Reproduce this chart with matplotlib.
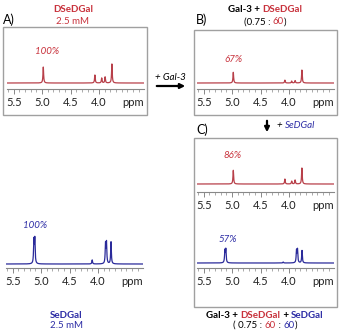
import numpy as np
import matplotlib
matplotlib.use('Agg')
import matplotlib.pyplot as plt
from matplotlib import patches

plt.rcParams['font.family'] = ['Lato', 'DejaVu Sans']

# 数据：峰位置 (ppm) 与相对强度
red_ppm = [4.98, 4.07, 3.95, 3.89, 3.77]
red_A = [1.00, 0.50, 0.31, 0.38, 1.19]   # DSeDGal 2.5 mM
red_B = [0.67, 0.18, 0.12, 0.15, 0.81]   # Gal-3 + DSeDGal
red_C = [0.86, 0.31, 0.18, 0.25, 1.00]   # Gal-3 + DSeDGal + SeDGal
blue_ppm = [5.128, 5.112, 4.10, 3.865, 3.848, 3.768]
blue_A = [0.95, 1.00, 0.17, 0.80, 0.86, 0.92]   # SeDGal 2.5 mM
blue_C = [0.50, 0.54, 0.04, 0.50, 0.54, 0.52]   # Gal-3 + DSeDGal + SeDGal

major_ticks = [5.5, 5.0, 4.5, 4.0]
xlim = (5.62, 3.21)

RED = '#c8323c'
RED_LINE = '#b8404a'
BLUE = '#2e2ea6'
BLUE_LINE = '#2a2a9a'
GREY = '#a0a0a0'
FS = 7

W, H = 339, 335
fig = plt.figure(figsize=(W / 100, H / 100), dpi=100)


def spectrum(left, axis_y, base_y, scale, ppm, heights, color):
    # left / axis_y / base_y 为像素位置, scale = 每单位强度的像素数
    width = (xlim[0] - xlim[1]) * 56.7
    h = axis_y - base_y + 32
    ax = fig.add_axes([left / W, 1 - axis_y / H, width / W, h / H])
    x = np.linspace(xlim[0], xlim[1], 3000)
    y = np.zeros_like(x)
    for p, a in zip(ppm, heights):
        y += a / (1 + ((x - p) / 0.007) ** 2)
    ax.plot(x, y, color=color, lw=0.9)
    ax.set_xlim(xlim)
    lo = -(axis_y - base_y) / scale
    ax.set_ylim(lo, lo + h / scale)
    for s in ['top', 'left', 'right']:
        ax.spines[s].set_visible(False)
    ax.spines['bottom'].set_color('#888888')
    ax.spines['bottom'].set_linewidth(0.8)
    ax.set_yticks([])
    ax.set_xticks(major_ticks)
    ax.set_xticks(np.arange(3.3, 5.65, 0.1), minor=True)
    ax.set_xticklabels([f'{t:.1f}' for t in major_ticks])
    ax.tick_params(axis='x', which='major', length=3.5, width=0.7, color='#888888',
                   labelsize=8, pad=2, labelcolor='#222222')
    ax.tick_params(axis='x', which='minor', length=2, width=0.5, color='#888888')
    ax.annotate('ppm', xy=(3.40, 0), xycoords=('data', 'axes fraction'),
                xytext=(0, -5.5), textcoords='offset points', ha='center', va='top',
                fontsize=8, color='#222222')
    ax.patch.set_alpha(0)
    return ax


def box(x, y, w, h):
    fig.add_artist(patches.Rectangle((x / W, 1 - (y + h) / H), w / W, h / H,
                                     transform=fig.transFigure, fill=False,
                                     ec=GREY, lw=1))


def label(x, y, s, **kw):
    fig.text(x / W, 1 - y / H, s, ha=kw.pop('ha', 'center'), va='center', **kw)


def multi(xc, y, parts, **kw):
    # 多颜色文字，居中
    r = fig.canvas.get_renderer()
    ts = [fig.text(0, 1 - y / H, s, color=c, ha='left', va='center', **kw) for s, c in parts]
    ws = [t.get_window_extent(r).width for t in ts]
    x0 = xc - sum(ws) / 2
    for t, w in zip(ts, ws):
        t.set_x(x0 / W)
        x0 += w


# 方框
box(3, 27, 144, 88)
box(194, 30, 143, 85)
box(194, 138, 143, 169)

# 光谱
spectrum(7, 89, 83, 16, red_ppm, red_A, RED_LINE)
spectrum(197, 89, 83, 16, red_ppm, red_B, RED_LINE)
spectrum(197, 192, 184, 16, red_ppm, red_C, RED_LINE)
spectrum(197, 268, 263, 24, blue_ppm, blue_C, BLUE_LINE)
spectrum(6, 268, 264, 24, blue_ppm, blue_A, BLUE_LINE)

# 百分比标注
label(47, 52, '100%', color=RED, style='italic', fontsize=FS)
label(233, 59, '67%', color=RED, style='italic', fontsize=FS)
label(233, 156, '86%', color=RED, style='italic', fontsize=FS)
label(228, 240, '57%', color=BLUE, style='italic', fontsize=FS)
label(35, 225, '100%', color=BLUE, style='italic', fontsize=FS)

# 面板标签
label(3, 20, 'A)', ha='left', fontsize=9)
label(196, 20, 'B)', ha='left', fontsize=9)
label(196, 130, 'C)', ha='left', fontsize=9)

# 标题
label(73, 9, 'DSeDGal', color=RED, fontweight='bold', fontsize=FS)
label(73, 22, '2.5 mM', color=RED, fontsize=FS)
label(66, 316, 'SeDGal', color=BLUE, fontweight='bold', fontsize=FS)
label(66, 326, '2.5 mM', color=BLUE, fontsize=FS)
multi(265, 9, [('Gal-3 + ', 'black'), ('DSeDGal', RED)], fontweight='bold', fontsize=FS)
multi(265, 22, [('(0.75 : ', 'black'), ('60', RED), (')', 'black')], fontsize=FS)
multi(265, 315, [('Gal-3 + ', 'black'), ('DSeDGal', RED), (' + ', 'black'), ('SeDGal', BLUE)],
      fontweight='bold', fontsize=FS)
multi(265, 325, [('( 0.75 : ', 'black'), ('60', RED), (' : ', 'black'), ('60', BLUE), (')', 'black')],
      fontsize=FS)

# 箭头
label(170, 77, '+ Gal-3', style='italic', fontsize=FS)
fig.add_artist(patches.FancyArrowPatch((154 / W, 1 - 86 / H), (188 / W, 1 - 86 / H),
                                       transform=fig.transFigure, arrowstyle='-|>',
                                       mutation_scale=7, lw=1.6, color='black'))
fig.add_artist(patches.FancyArrowPatch((267 / W, 1 - 118 / H), (267 / W, 1 - 135 / H),
                                       transform=fig.transFigure, arrowstyle='-|>',
                                       mutation_scale=7, lw=1.6, color='black'))
r = fig.canvas.get_renderer()
t1 = fig.text(277 / W, 1 - 125 / H, '+ ', style='italic', fontsize=FS, va='center')
w1 = t1.get_window_extent(r).width
fig.text((277 + w1) / W, 1 - 125 / H, 'SeDGal', style='italic', fontsize=FS,
         va='center', color=BLUE)

fig.savefig('out.png', dpi=100)
